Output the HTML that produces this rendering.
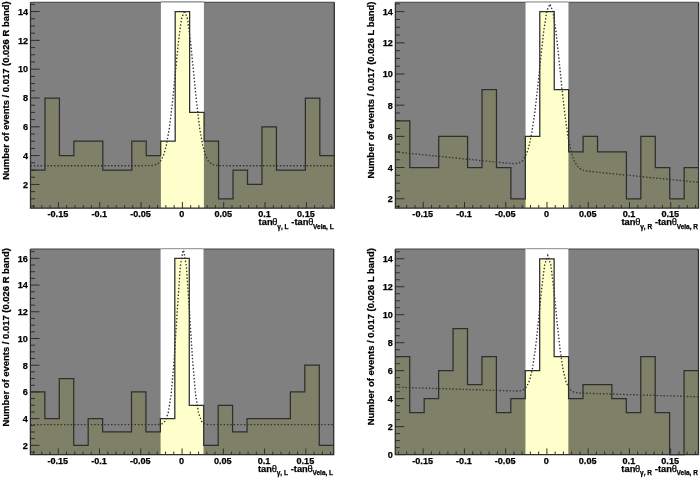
<!DOCTYPE html>
<html><head><meta charset="utf-8"><style>
html,body{margin:0;padding:0;background:#fff;width:700px;height:478px;overflow:hidden}
svg{display:block;filter:blur(0.45px)}
text{font-family:"Liberation Sans",sans-serif;font-weight:bold;fill:#000;stroke:#000;stroke-width:0.25px}
.lab text{font-size:9.1px}
.yt{font-size:9.45px}
.xt text{font-size:9.3px}
.xt .th{font-weight:normal}
.xt .sb{font-size:6.5px}
</style></head><body>
<svg width="700" height="478" viewBox="0 0 700 478">
<rect width="700" height="478" fill="#fff"/>
<rect x="30.50" y="2.20" width="303.80" height="206.00" fill="#808080"/>
<rect x="160.91" y="2.20" width="42.99" height="206.00" fill="#fff"/>
<clipPath id="band0"><rect x="160.91" y="2.20" width="42.99" height="206.00"/></clipPath>
<path d="M30.50,208.20 L30.50,170.03 L44.97,170.03 L44.97,98.00 L59.43,98.00 L59.43,155.62 L73.90,155.62 L73.90,141.21 L88.37,141.21 L88.37,141.21 L102.83,141.21 L102.83,170.03 L117.30,170.03 L117.30,170.03 L131.77,170.03 L131.77,141.21 L146.23,141.21 L146.23,155.62 L160.70,155.62 L160.70,141.21 L175.17,141.21 L175.17,11.56 L189.63,11.56 L189.63,112.40 L204.10,112.40 L204.10,141.21 L218.57,141.21 L218.57,198.84 L233.03,198.84 L233.03,170.03 L247.50,170.03 L247.50,184.43 L261.97,184.43 L261.97,126.81 L276.43,126.81 L276.43,170.03 L290.90,170.03 L290.90,170.03 L305.37,170.03 L305.37,98.00 L319.83,98.00 L319.83,155.62 L334.30,155.62 L334.30,208.20 Z" fill="#7f8068"/>
<path d="M30.50,208.20 L30.50,170.03 L44.97,170.03 L44.97,98.00 L59.43,98.00 L59.43,155.62 L73.90,155.62 L73.90,141.21 L88.37,141.21 L88.37,141.21 L102.83,141.21 L102.83,170.03 L117.30,170.03 L117.30,170.03 L131.77,170.03 L131.77,141.21 L146.23,141.21 L146.23,155.62 L160.70,155.62 L160.70,141.21 L175.17,141.21 L175.17,11.56 L189.63,11.56 L189.63,112.40 L204.10,112.40 L204.10,141.21 L218.57,141.21 L218.57,198.84 L233.03,198.84 L233.03,170.03 L247.50,170.03 L247.50,184.43 L261.97,184.43 L261.97,126.81 L276.43,126.81 L276.43,170.03 L290.90,170.03 L290.90,170.03 L305.37,170.03 L305.37,98.00 L319.83,98.00 L319.83,155.62 L334.30,155.62 L334.30,208.20 Z" fill="#ffffcc" clip-path="url(#band0)"/>
<path d="M30.50,170.03 L44.97,170.03 L44.97,98.00 L59.43,98.00 L59.43,155.62 L73.90,155.62 L73.90,141.21 L88.37,141.21 L88.37,141.21 L102.83,141.21 L102.83,170.03 L117.30,170.03 L117.30,170.03 L131.77,170.03 L131.77,141.21 L146.23,141.21 L146.23,155.62 L160.70,155.62 L160.70,141.21 L175.17,141.21 L175.17,11.56 L189.63,11.56 L189.63,112.40 L204.10,112.40 L204.10,141.21 L218.57,141.21 L218.57,198.84 L233.03,198.84 L233.03,170.03 L247.50,170.03 L247.50,184.43 L261.97,184.43 L261.97,126.81 L276.43,126.81 L276.43,170.03 L290.90,170.03 L290.90,170.03 L305.37,170.03 L305.37,98.00 L319.83,98.00 L319.83,155.62 L334.30,155.62" fill="none" stroke="#2e2e2e" stroke-width="1.25"/>
<clipPath id="fr0"><rect x="30.50" y="2.20" width="303.80" height="206.00"/></clipPath>
<polyline points="30.50,165.70 32.60,165.70 35.64,165.70 38.68,165.70 41.71,165.70 44.75,165.70 47.79,165.70 50.83,165.70 53.87,165.70 56.90,165.70 59.94,165.70 62.98,165.70 66.02,165.70 69.06,165.70 72.09,165.70 75.13,165.70 78.17,165.70 81.21,165.70 84.25,165.70 87.28,165.70 90.32,165.70 93.36,165.70 96.40,165.70 99.44,165.70 102.47,165.70 105.51,165.70 108.55,165.70 111.59,165.70 114.63,165.70 117.66,165.70 120.70,165.70 123.74,165.70 126.78,165.70 129.82,165.70 132.85,165.70 135.89,165.70 138.93,165.70 141.97,165.70 145.01,165.69 148.04,165.66 151.08,165.55 154.12,165.18 157.16,164.17 160.20,161.65 163.23,156.18 166.27,145.73 169.31,128.33 172.35,103.29 175.39,72.71 178.42,42.06 181.46,19.01 184.50,10.41 187.54,19.01 190.58,42.06 193.61,72.71 196.65,103.29 199.69,128.33 202.73,145.73 205.77,156.18 208.80,161.65 211.84,164.17 214.88,165.18 217.92,165.55 220.96,165.66 223.99,165.69 227.03,165.70 230.07,165.70 233.11,165.70 236.15,165.70 239.18,165.70 242.22,165.70 245.26,165.70 248.30,165.70 251.34,165.70 254.37,165.70 257.41,165.70 260.45,165.70 263.49,165.70 266.53,165.70 269.56,165.70 272.60,165.70 275.64,165.70 278.68,165.70 281.72,165.70 284.75,165.70 287.79,165.70 290.83,165.70 293.87,165.70 296.91,165.70 299.94,165.70 302.98,165.70 306.02,165.70 309.06,165.70 312.10,165.70 315.13,165.70 318.17,165.70 321.21,165.70 324.25,165.70 327.29,165.70 330.32,165.70 333.36,165.70 334.30,165.70" fill="none" stroke="#333" stroke-width="1.35" stroke-dasharray="1.45 1.91" clip-path="url(#fr0)"/>
<path d="M30.50,2.20 L30.50,208.20 L334.30,208.20 L334.30,2.20" fill="none" stroke="#2e2e2e" stroke-width="1.3"/>
<path d="M30.50,2.20 L160.91,2.20" stroke="#404040" stroke-width="1.1"/>
<path d="M203.89,2.20 L334.30,2.20" stroke="#404040" stroke-width="1.1"/>
<path d="M160.91,1.80 L203.89,1.80" stroke="#a0a0a0" stroke-width="1.4"/>
<path d="M30.50,206.04 h4.56 M30.50,198.84 h4.56 M30.50,191.63 h4.56 M30.50,184.43 h9.11 M30.50,177.23 h4.56 M30.50,170.03 h4.56 M30.50,162.82 h4.56 M30.50,155.62 h9.11 M30.50,148.42 h4.56 M30.50,141.21 h4.56 M30.50,134.01 h4.56 M30.50,126.81 h9.11 M30.50,119.61 h4.56 M30.50,112.40 h4.56 M30.50,105.20 h4.56 M30.50,98.00 h9.11 M30.50,90.79 h4.56 M30.50,83.59 h4.56 M30.50,76.39 h4.56 M30.50,69.19 h9.11 M30.50,61.98 h4.56 M30.50,54.78 h4.56 M30.50,47.58 h4.56 M30.50,40.37 h9.11 M30.50,33.17 h4.56 M30.50,25.97 h4.56 M30.50,18.77 h4.56 M30.50,11.56 h9.11 M30.50,4.36 h4.56 M33.60,208.20 v-3.09 M41.87,208.20 v-3.09 M50.13,208.20 v-3.09 M58.40,208.20 v-6.18 M66.67,208.20 v-3.09 M74.93,208.20 v-3.09 M83.20,208.20 v-3.09 M91.47,208.20 v-3.09 M99.73,208.20 v-6.18 M108.00,208.20 v-3.09 M116.27,208.20 v-3.09 M124.53,208.20 v-3.09 M132.80,208.20 v-3.09 M141.07,208.20 v-6.18 M149.33,208.20 v-3.09 M157.60,208.20 v-3.09 M165.87,208.20 v-3.09 M174.13,208.20 v-3.09 M182.40,208.20 v-6.18 M190.67,208.20 v-3.09 M198.93,208.20 v-3.09 M207.20,208.20 v-3.09 M215.47,208.20 v-3.09 M223.73,208.20 v-6.18 M232.00,208.20 v-3.09 M240.27,208.20 v-3.09 M248.53,208.20 v-3.09 M256.80,208.20 v-3.09 M265.07,208.20 v-6.18 M273.33,208.20 v-3.09 M281.60,208.20 v-3.09 M289.87,208.20 v-3.09 M298.13,208.20 v-3.09 M306.40,208.20 v-6.18 M314.67,208.20 v-3.09 M322.93,208.20 v-3.09 M331.20,208.20 v-3.09" stroke="#2e2e2e" stroke-width="1"/>
<g class="lab"><text x="28.00" y="187.73" text-anchor="end">2</text><text x="28.00" y="158.92" text-anchor="end">4</text><text x="28.00" y="130.11" text-anchor="end">6</text><text x="28.00" y="101.30" text-anchor="end">8</text><text x="28.00" y="72.49" text-anchor="end">10</text><text x="28.00" y="43.67" text-anchor="end">12</text><text x="28.00" y="14.86" text-anchor="end">14</text><text x="57.90" y="217.10" text-anchor="middle">-0.15</text><text x="99.23" y="217.10" text-anchor="middle">-0.1</text><text x="140.57" y="217.10" text-anchor="middle">-0.05</text><text x="181.90" y="217.10" text-anchor="middle">0</text><text x="223.23" y="217.10" text-anchor="middle">0.05</text><text x="264.57" y="217.10" text-anchor="middle">0.1</text><text x="305.90" y="217.10" text-anchor="middle">0.15</text></g>
<text class="yt" transform="translate(9.00,1.40) rotate(-90)" text-anchor="end">Number of events / 0.017 (0.026 R band)</text>
<g class="xt"><text x="258.61" y="225.40">tan</text><text class="th" x="272.36" y="225.40">θ</text><text class="sb" x="277.36" y="228.60">γ, L</text><text x="291.36" y="225.40">-tan</text><text class="th" x="308.21" y="225.40">θ</text><text class="sb" x="313.11" y="228.60">Vela, L</text></g>
<rect x="395.40" y="2.30" width="303.20" height="205.80" fill="#808080"/>
<rect x="525.55" y="2.30" width="42.90" height="205.80" fill="#fff"/>
<clipPath id="band1"><rect x="525.55" y="2.30" width="42.90" height="205.80"/></clipPath>
<path d="M395.40,208.10 L395.40,120.79 L409.84,120.79 L409.84,167.56 L424.28,167.56 L424.28,167.56 L438.71,167.56 L438.71,136.38 L453.15,136.38 L453.15,136.38 L467.59,136.38 L467.59,167.56 L482.03,167.56 L482.03,89.61 L496.47,89.61 L496.47,167.56 L510.90,167.56 L510.90,198.75 L525.34,198.75 L525.34,136.38 L539.78,136.38 L539.78,11.65 L554.22,11.65 L554.22,89.61 L568.66,89.61 L568.66,151.97 L583.10,151.97 L583.10,136.38 L597.53,136.38 L597.53,151.97 L611.97,151.97 L611.97,151.97 L626.41,151.97 L626.41,198.75 L640.85,198.75 L640.85,136.38 L655.29,136.38 L655.29,167.56 L669.72,167.56 L669.72,198.75 L684.16,198.75 L684.16,167.56 L698.60,167.56 L698.60,208.10 Z" fill="#7f8068"/>
<path d="M395.40,208.10 L395.40,120.79 L409.84,120.79 L409.84,167.56 L424.28,167.56 L424.28,167.56 L438.71,167.56 L438.71,136.38 L453.15,136.38 L453.15,136.38 L467.59,136.38 L467.59,167.56 L482.03,167.56 L482.03,89.61 L496.47,89.61 L496.47,167.56 L510.90,167.56 L510.90,198.75 L525.34,198.75 L525.34,136.38 L539.78,136.38 L539.78,11.65 L554.22,11.65 L554.22,89.61 L568.66,89.61 L568.66,151.97 L583.10,151.97 L583.10,136.38 L597.53,136.38 L597.53,151.97 L611.97,151.97 L611.97,151.97 L626.41,151.97 L626.41,198.75 L640.85,198.75 L640.85,136.38 L655.29,136.38 L655.29,167.56 L669.72,167.56 L669.72,198.75 L684.16,198.75 L684.16,167.56 L698.60,167.56 L698.60,208.10 Z" fill="#ffffcc" clip-path="url(#band1)"/>
<path d="M395.40,120.79 L409.84,120.79 L409.84,167.56 L424.28,167.56 L424.28,167.56 L438.71,167.56 L438.71,136.38 L453.15,136.38 L453.15,136.38 L467.59,136.38 L467.59,167.56 L482.03,167.56 L482.03,89.61 L496.47,89.61 L496.47,167.56 L510.90,167.56 L510.90,198.75 L525.34,198.75 L525.34,136.38 L539.78,136.38 L539.78,11.65 L554.22,11.65 L554.22,89.61 L568.66,89.61 L568.66,151.97 L583.10,151.97 L583.10,136.38 L597.53,136.38 L597.53,151.97 L611.97,151.97 L611.97,151.97 L626.41,151.97 L626.41,198.75 L640.85,198.75 L640.85,136.38 L655.29,136.38 L655.29,167.56 L669.72,167.56 L669.72,198.75 L684.16,198.75 L684.16,167.56 L698.60,167.56" fill="none" stroke="#2e2e2e" stroke-width="1.25"/>
<clipPath id="fr1"><rect x="395.40" y="2.30" width="303.20" height="205.80"/></clipPath>
<polyline points="395.40,151.97 398.30,152.26 401.33,152.57 404.36,152.87 407.40,153.18 410.43,153.48 413.46,153.78 416.49,154.09 419.52,154.39 422.56,154.70 425.59,155.00 428.62,155.30 431.65,155.61 434.68,155.91 437.72,156.22 440.75,156.52 443.78,156.82 446.81,157.13 449.84,157.43 452.88,157.74 455.91,158.04 458.94,158.34 461.97,158.65 465.00,158.95 468.04,159.26 471.07,159.56 474.10,159.86 477.13,160.17 480.16,160.47 483.20,160.78 486.23,161.08 489.26,161.38 492.29,161.69 495.32,161.99 498.36,162.30 501.39,162.60 504.42,162.90 507.45,163.18 510.48,163.43 513.52,163.57 516.55,163.42 519.58,162.62 522.61,160.48 525.64,155.89 528.68,147.37 531.71,133.36 534.74,112.96 537.77,86.76 540.80,57.59 543.84,30.36 546.87,10.91 549.90,4.02 552.93,11.52 555.96,31.58 559.00,59.42 562.03,89.20 565.06,116.00 568.09,137.01 571.12,151.62 574.16,160.76 577.19,165.95 580.22,168.70 583.25,170.11 586.28,170.86 589.32,171.34 592.35,171.70 595.38,172.02 598.41,172.33 601.44,172.63 604.48,172.94 607.51,173.24 610.54,173.55 613.57,173.85 616.60,174.15 619.64,174.46 622.67,174.76 625.70,175.07 628.73,175.37 631.76,175.67 634.80,175.98 637.83,176.28 640.86,176.59 643.89,176.89 646.92,177.19 649.96,177.50 652.99,177.80 656.02,178.11 659.05,178.41 662.08,178.71 665.12,179.02 668.15,179.32 671.18,179.63 674.21,179.93 677.24,180.23 680.28,180.54 683.31,180.84 686.34,181.15 689.37,181.45 692.40,181.75 695.44,182.06 698.47,182.36 698.60,182.38" fill="none" stroke="#333" stroke-width="1.35" stroke-dasharray="1.45 1.91" clip-path="url(#fr1)"/>
<path d="M395.40,2.30 L395.40,208.10 L698.60,208.10 L698.60,2.30" fill="none" stroke="#2e2e2e" stroke-width="1.3"/>
<path d="M395.40,2.30 L525.55,2.30" stroke="#404040" stroke-width="1.1"/>
<path d="M568.45,2.30 L698.60,2.30" stroke="#404040" stroke-width="1.1"/>
<path d="M525.55,1.90 L568.45,1.90" stroke="#a0a0a0" stroke-width="1.4"/>
<path d="M395.40,206.54 h4.55 M395.40,198.75 h9.10 M395.40,190.95 h4.55 M395.40,183.15 h4.55 M395.40,175.36 h4.55 M395.40,167.56 h9.10 M395.40,159.77 h4.55 M395.40,151.97 h4.55 M395.40,144.18 h4.55 M395.40,136.38 h9.10 M395.40,128.59 h4.55 M395.40,120.79 h4.55 M395.40,113.00 h4.55 M395.40,105.20 h9.10 M395.40,97.40 h4.55 M395.40,89.61 h4.55 M395.40,81.81 h4.55 M395.40,74.02 h9.10 M395.40,66.22 h4.55 M395.40,58.43 h4.55 M395.40,50.63 h4.55 M395.40,42.84 h9.10 M395.40,35.04 h4.55 M395.40,27.25 h4.55 M395.40,19.45 h4.55 M395.40,11.65 h9.10 M395.40,3.86 h4.55 M398.49,208.10 v-3.09 M406.74,208.10 v-3.09 M414.99,208.10 v-3.09 M423.24,208.10 v-6.17 M431.50,208.10 v-3.09 M439.75,208.10 v-3.09 M448.00,208.10 v-3.09 M456.25,208.10 v-3.09 M464.50,208.10 v-6.17 M472.75,208.10 v-3.09 M481.00,208.10 v-3.09 M489.25,208.10 v-3.09 M497.50,208.10 v-3.09 M505.75,208.10 v-6.17 M514.00,208.10 v-3.09 M522.25,208.10 v-3.09 M530.50,208.10 v-3.09 M538.75,208.10 v-3.09 M547.00,208.10 v-6.17 M555.25,208.10 v-3.09 M563.50,208.10 v-3.09 M571.75,208.10 v-3.09 M580.00,208.10 v-3.09 M588.25,208.10 v-6.17 M596.50,208.10 v-3.09 M604.75,208.10 v-3.09 M613.00,208.10 v-3.09 M621.25,208.10 v-3.09 M629.50,208.10 v-6.17 M637.75,208.10 v-3.09 M646.00,208.10 v-3.09 M654.25,208.10 v-3.09 M662.50,208.10 v-3.09 M670.76,208.10 v-6.17 M679.01,208.10 v-3.09 M687.26,208.10 v-3.09 M695.51,208.10 v-3.09" stroke="#2e2e2e" stroke-width="1"/>
<g class="lab"><text x="392.90" y="202.05" text-anchor="end">2</text><text x="392.90" y="170.86" text-anchor="end">4</text><text x="392.90" y="139.68" text-anchor="end">6</text><text x="392.90" y="108.50" text-anchor="end">8</text><text x="392.90" y="77.32" text-anchor="end">10</text><text x="392.90" y="46.14" text-anchor="end">12</text><text x="392.90" y="14.95" text-anchor="end">14</text><text x="422.74" y="217.00" text-anchor="middle">-0.15</text><text x="464.00" y="217.00" text-anchor="middle">-0.1</text><text x="505.25" y="217.00" text-anchor="middle">-0.05</text><text x="546.50" y="217.00" text-anchor="middle">0</text><text x="587.75" y="217.00" text-anchor="middle">0.05</text><text x="629.00" y="217.00" text-anchor="middle">0.1</text><text x="670.26" y="217.00" text-anchor="middle">0.15</text></g>
<text class="yt" transform="translate(373.90,1.50) rotate(-90)" text-anchor="end">Number of events / 0.017 (0.026 L band)</text>
<g class="xt"><text x="621.46" y="225.30">tan</text><text class="th" x="635.21" y="225.30">θ</text><text class="sb" x="640.21" y="228.50">γ, R</text><text x="654.93" y="225.30">-tan</text><text class="th" x="671.78" y="225.30">θ</text><text class="sb" x="676.68" y="228.50">Vela, R</text></g>
<rect x="30.40" y="249.00" width="303.30" height="205.70" fill="#808080"/>
<rect x="160.59" y="249.00" width="42.92" height="205.70" fill="#fff"/>
<clipPath id="band2"><rect x="160.59" y="249.00" width="42.92" height="205.70"/></clipPath>
<path d="M30.40,454.70 L30.40,391.92 L44.84,391.92 L44.84,418.64 L59.29,418.64 L59.29,378.56 L73.73,378.56 L73.73,445.35 L88.17,445.35 L88.17,418.64 L102.61,418.64 L102.61,431.99 L117.06,431.99 L117.06,431.99 L131.50,431.99 L131.50,391.92 L145.94,391.92 L145.94,431.99 L160.39,431.99 L160.39,418.64 L174.83,418.64 L174.83,258.35 L189.27,258.35 L189.27,405.28 L203.71,405.28 L203.71,445.35 L218.16,445.35 L218.16,405.28 L232.60,405.28 L232.60,431.99 L247.04,431.99 L247.04,418.64 L261.49,418.64 L261.49,418.64 L275.93,418.64 L275.93,418.64 L290.37,418.64 L290.37,391.92 L304.81,391.92 L304.81,365.21 L319.26,365.21 L319.26,445.35 L333.70,445.35 L333.70,454.70 Z" fill="#7f8068"/>
<path d="M30.40,454.70 L30.40,391.92 L44.84,391.92 L44.84,418.64 L59.29,418.64 L59.29,378.56 L73.73,378.56 L73.73,445.35 L88.17,445.35 L88.17,418.64 L102.61,418.64 L102.61,431.99 L117.06,431.99 L117.06,431.99 L131.50,431.99 L131.50,391.92 L145.94,391.92 L145.94,431.99 L160.39,431.99 L160.39,418.64 L174.83,418.64 L174.83,258.35 L189.27,258.35 L189.27,405.28 L203.71,405.28 L203.71,445.35 L218.16,445.35 L218.16,405.28 L232.60,405.28 L232.60,431.99 L247.04,431.99 L247.04,418.64 L261.49,418.64 L261.49,418.64 L275.93,418.64 L275.93,418.64 L290.37,418.64 L290.37,391.92 L304.81,391.92 L304.81,365.21 L319.26,365.21 L319.26,445.35 L333.70,445.35 L333.70,454.70 Z" fill="#ffffcc" clip-path="url(#band2)"/>
<path d="M30.40,391.92 L44.84,391.92 L44.84,418.64 L59.29,418.64 L59.29,378.56 L73.73,378.56 L73.73,445.35 L88.17,445.35 L88.17,418.64 L102.61,418.64 L102.61,431.99 L117.06,431.99 L117.06,431.99 L131.50,431.99 L131.50,391.92 L145.94,391.92 L145.94,431.99 L160.39,431.99 L160.39,418.64 L174.83,418.64 L174.83,258.35 L189.27,258.35 L189.27,405.28 L203.71,405.28 L203.71,445.35 L218.16,445.35 L218.16,405.28 L232.60,405.28 L232.60,431.99 L247.04,431.99 L247.04,418.64 L261.49,418.64 L261.49,418.64 L275.93,418.64 L275.93,418.64 L290.37,418.64 L290.37,391.92 L304.81,391.92 L304.81,365.21 L319.26,365.21 L319.26,445.35 L333.70,445.35" fill="none" stroke="#2e2e2e" stroke-width="1.25"/>
<clipPath id="fr2"><rect x="30.40" y="249.00" width="303.30" height="205.70"/></clipPath>
<polyline points="30.40,424.65 31.70,424.65 34.73,424.65 37.77,424.65 40.80,424.65 43.83,424.65 46.87,424.65 49.90,424.65 52.93,424.65 55.96,424.65 59.00,424.65 62.03,424.65 65.06,424.65 68.10,424.65 71.13,424.65 74.16,424.65 77.20,424.65 80.23,424.65 83.26,424.65 86.29,424.65 89.33,424.65 92.36,424.65 95.39,424.65 98.43,424.65 101.46,424.65 104.49,424.65 107.53,424.65 110.56,424.65 113.59,424.65 116.62,424.65 119.66,424.65 122.69,424.65 125.72,424.65 128.76,424.65 131.79,424.65 134.82,424.65 137.86,424.65 140.89,424.65 143.92,424.65 146.95,424.65 149.99,424.65 153.02,424.64 156.05,424.62 159.09,424.48 162.12,423.80 165.15,421.15 168.19,413.05 171.22,393.76 174.25,358.46 177.28,310.58 180.32,266.52 183.35,248.33 186.38,266.52 189.42,310.58 192.45,358.46 195.48,393.76 198.52,413.05 201.55,421.15 204.58,423.80 207.61,424.48 210.65,424.62 213.68,424.64 216.71,424.65 219.75,424.65 222.78,424.65 225.81,424.65 228.85,424.65 231.88,424.65 234.91,424.65 237.94,424.65 240.98,424.65 244.01,424.65 247.04,424.65 250.08,424.65 253.11,424.65 256.14,424.65 259.18,424.65 262.21,424.65 265.24,424.65 268.27,424.65 271.31,424.65 274.34,424.65 277.37,424.65 280.41,424.65 283.44,424.65 286.47,424.65 289.50,424.65 292.54,424.65 295.57,424.65 298.60,424.65 301.64,424.65 304.67,424.65 307.70,424.65 310.74,424.65 313.77,424.65 316.80,424.65 319.84,424.65 322.87,424.65 325.90,424.65 328.93,424.65 331.97,424.65 333.70,424.65" fill="none" stroke="#333" stroke-width="1.35" stroke-dasharray="1.45 1.91" clip-path="url(#fr2)"/>
<path d="M30.40,249.00 L30.40,454.70 L333.70,454.70 L333.70,249.00" fill="none" stroke="#2e2e2e" stroke-width="1.3"/>
<path d="M30.40,249.00 L160.59,249.00" stroke="#404040" stroke-width="1.1"/>
<path d="M203.51,249.00 L333.70,249.00" stroke="#404040" stroke-width="1.1"/>
<path d="M160.59,248.60 L203.51,248.60" stroke="#a0a0a0" stroke-width="1.4"/>
<path d="M30.40,452.03 h4.55 M30.40,445.35 h9.10 M30.40,438.67 h4.55 M30.40,431.99 h4.55 M30.40,425.31 h4.55 M30.40,418.64 h9.10 M30.40,411.96 h4.55 M30.40,405.28 h4.55 M30.40,398.60 h4.55 M30.40,391.92 h9.10 M30.40,385.24 h4.55 M30.40,378.56 h4.55 M30.40,371.89 h4.55 M30.40,365.21 h9.10 M30.40,358.53 h4.55 M30.40,351.85 h4.55 M30.40,345.17 h4.55 M30.40,338.49 h9.10 M30.40,331.81 h4.55 M30.40,325.14 h4.55 M30.40,318.46 h4.55 M30.40,311.78 h9.10 M30.40,305.10 h4.55 M30.40,298.42 h4.55 M30.40,291.74 h4.55 M30.40,285.06 h9.10 M30.40,278.39 h4.55 M30.40,271.71 h4.55 M30.40,265.03 h4.55 M30.40,258.35 h9.10 M30.40,251.67 h4.55 M33.49,454.70 v-3.09 M41.75,454.70 v-3.09 M50.00,454.70 v-3.09 M58.25,454.70 v-6.17 M66.51,454.70 v-3.09 M74.76,454.70 v-3.09 M83.01,454.70 v-3.09 M91.27,454.70 v-3.09 M99.52,454.70 v-6.17 M107.77,454.70 v-3.09 M116.03,454.70 v-3.09 M124.28,454.70 v-3.09 M132.53,454.70 v-3.09 M140.78,454.70 v-6.17 M149.04,454.70 v-3.09 M157.29,454.70 v-3.09 M165.54,454.70 v-3.09 M173.80,454.70 v-3.09 M182.05,454.70 v-6.17 M190.30,454.70 v-3.09 M198.56,454.70 v-3.09 M206.81,454.70 v-3.09 M215.06,454.70 v-3.09 M223.32,454.70 v-6.17 M231.57,454.70 v-3.09 M239.82,454.70 v-3.09 M248.07,454.70 v-3.09 M256.33,454.70 v-3.09 M264.58,454.70 v-6.17 M272.83,454.70 v-3.09 M281.09,454.70 v-3.09 M289.34,454.70 v-3.09 M297.59,454.70 v-3.09 M305.85,454.70 v-6.17 M314.10,454.70 v-3.09 M322.35,454.70 v-3.09 M330.61,454.70 v-3.09" stroke="#2e2e2e" stroke-width="1"/>
<g class="lab"><text x="27.90" y="448.65" text-anchor="end">2</text><text x="27.90" y="421.94" text-anchor="end">4</text><text x="27.90" y="395.22" text-anchor="end">6</text><text x="27.90" y="368.51" text-anchor="end">8</text><text x="27.90" y="341.79" text-anchor="end">10</text><text x="27.90" y="315.08" text-anchor="end">12</text><text x="27.90" y="288.36" text-anchor="end">14</text><text x="27.90" y="261.65" text-anchor="end">16</text><text x="57.75" y="463.60" text-anchor="middle">-0.15</text><text x="99.02" y="463.60" text-anchor="middle">-0.1</text><text x="140.28" y="463.60" text-anchor="middle">-0.05</text><text x="181.55" y="463.60" text-anchor="middle">0</text><text x="222.82" y="463.60" text-anchor="middle">0.05</text><text x="264.08" y="463.60" text-anchor="middle">0.1</text><text x="305.35" y="463.60" text-anchor="middle">0.15</text></g>
<text class="yt" transform="translate(8.90,248.20) rotate(-90)" text-anchor="end">Number of events / 0.017 (0.026 R band)</text>
<g class="xt"><text x="258.01" y="471.90">tan</text><text class="th" x="271.76" y="471.90">θ</text><text class="sb" x="276.76" y="475.10">γ, L</text><text x="290.76" y="471.90">-tan</text><text class="th" x="307.61" y="471.90">θ</text><text class="sb" x="312.51" y="475.10">Vela, L</text></g>
<rect x="395.30" y="249.00" width="303.20" height="205.60" fill="#808080"/>
<rect x="525.45" y="249.00" width="42.90" height="205.60" fill="#fff"/>
<clipPath id="band3"><rect x="525.45" y="249.00" width="42.90" height="205.60"/></clipPath>
<path d="M395.30,454.60 L395.30,356.70 L409.74,356.70 L409.74,412.64 L424.18,412.64 L424.18,398.65 L438.61,398.65 L438.61,370.68 L453.05,370.68 L453.05,328.72 L467.49,328.72 L467.49,384.67 L481.93,384.67 L481.93,356.70 L496.37,356.70 L496.37,412.64 L510.80,412.64 L510.80,398.65 L525.24,398.65 L525.24,370.68 L539.68,370.68 L539.68,258.79 L554.12,258.79 L554.12,356.70 L568.56,356.70 L568.56,398.65 L583.00,398.65 L583.00,384.67 L597.43,384.67 L597.43,384.67 L611.87,384.67 L611.87,398.65 L626.31,398.65 L626.31,412.64 L640.75,412.64 L640.75,356.70 L655.19,356.70 L655.19,412.64 L669.62,412.64 L669.62,454.60 L684.06,454.60 L684.06,370.68 L698.50,370.68 L698.50,454.60 Z" fill="#7f8068"/>
<path d="M395.30,454.60 L395.30,356.70 L409.74,356.70 L409.74,412.64 L424.18,412.64 L424.18,398.65 L438.61,398.65 L438.61,370.68 L453.05,370.68 L453.05,328.72 L467.49,328.72 L467.49,384.67 L481.93,384.67 L481.93,356.70 L496.37,356.70 L496.37,412.64 L510.80,412.64 L510.80,398.65 L525.24,398.65 L525.24,370.68 L539.68,370.68 L539.68,258.79 L554.12,258.79 L554.12,356.70 L568.56,356.70 L568.56,398.65 L583.00,398.65 L583.00,384.67 L597.43,384.67 L597.43,384.67 L611.87,384.67 L611.87,398.65 L626.31,398.65 L626.31,412.64 L640.75,412.64 L640.75,356.70 L655.19,356.70 L655.19,412.64 L669.62,412.64 L669.62,454.60 L684.06,454.60 L684.06,370.68 L698.50,370.68 L698.50,454.60 Z" fill="#ffffcc" clip-path="url(#band3)"/>
<path d="M395.30,356.70 L409.74,356.70 L409.74,412.64 L424.18,412.64 L424.18,398.65 L438.61,398.65 L438.61,370.68 L453.05,370.68 L453.05,328.72 L467.49,328.72 L467.49,384.67 L481.93,384.67 L481.93,356.70 L496.37,356.70 L496.37,412.64 L510.80,412.64 L510.80,398.65 L525.24,398.65 L525.24,370.68 L539.68,370.68 L539.68,258.79 L554.12,258.79 L554.12,356.70 L568.56,356.70 L568.56,398.65 L583.00,398.65 L583.00,384.67 L597.43,384.67 L597.43,384.67 L611.87,384.67 L611.87,398.65 L626.31,398.65 L626.31,412.64 L640.75,412.64 L640.75,356.70 L655.19,356.70 L655.19,412.64 L669.62,412.64 L669.62,454.60 L684.06,454.60 L684.06,370.68 L698.50,370.68" fill="none" stroke="#2e2e2e" stroke-width="1.25"/>
<clipPath id="fr3"><rect x="395.30" y="249.00" width="303.20" height="205.60"/></clipPath>
<polyline points="395.30,387.19 396.15,387.21 399.18,387.31 402.21,387.41 405.25,387.50 408.28,387.60 411.31,387.70 414.34,387.79 417.37,387.89 420.41,387.98 423.44,388.08 426.47,388.18 429.50,388.27 432.53,388.37 435.57,388.47 438.60,388.56 441.63,388.66 444.66,388.76 447.69,388.85 450.73,388.95 453.76,389.05 456.79,389.14 459.82,389.24 462.85,389.34 465.89,389.43 468.92,389.53 471.95,389.63 474.98,389.72 478.01,389.82 481.05,389.91 484.08,390.01 487.11,390.11 490.14,390.20 493.17,390.30 496.21,390.40 499.24,390.49 502.27,390.59 505.30,390.69 508.33,390.78 511.37,390.87 514.40,390.95 517.43,390.95 520.46,390.70 523.49,389.72 526.53,386.95 529.56,380.49 532.59,367.85 535.62,347.12 538.65,319.03 541.69,288.63 544.72,264.58 547.75,255.43 550.78,264.77 553.81,289.01 556.85,319.61 559.88,347.89 562.91,368.82 565.94,381.65 568.97,388.30 572.01,391.27 575.04,392.44 578.07,392.88 581.10,393.07 584.13,393.19 587.17,393.29 590.20,393.39 593.23,393.49 596.26,393.58 599.29,393.68 602.33,393.78 605.36,393.87 608.39,393.97 611.42,394.06 614.45,394.16 617.49,394.26 620.52,394.35 623.55,394.45 626.58,394.55 629.61,394.64 632.65,394.74 635.68,394.84 638.71,394.93 641.74,395.03 644.77,395.13 647.81,395.22 650.84,395.32 653.87,395.42 656.90,395.51 659.93,395.61 662.97,395.71 666.00,395.80 669.03,395.90 672.06,395.99 675.09,396.09 678.13,396.19 681.16,396.28 684.19,396.38 687.22,396.48 690.25,396.57 693.29,396.67 696.32,396.77 698.50,396.84" fill="none" stroke="#333" stroke-width="1.35" stroke-dasharray="1.45 1.91" clip-path="url(#fr3)"/>
<path d="M395.30,249.00 L395.30,454.60 L698.50,454.60 L698.50,249.00" fill="none" stroke="#2e2e2e" stroke-width="1.3"/>
<path d="M395.30,249.00 L525.45,249.00" stroke="#404040" stroke-width="1.1"/>
<path d="M568.35,249.00 L698.50,249.00" stroke="#404040" stroke-width="1.1"/>
<path d="M525.45,248.60 L568.35,248.60" stroke="#a0a0a0" stroke-width="1.4"/>
<path d="M395.30,454.60 h9.10 M395.30,447.61 h4.55 M395.30,440.61 h4.55 M395.30,433.62 h4.55 M395.30,426.63 h9.10 M395.30,419.63 h4.55 M395.30,412.64 h4.55 M395.30,405.65 h4.55 M395.30,398.65 h9.10 M395.30,391.66 h4.55 M395.30,384.67 h4.55 M395.30,377.67 h4.55 M395.30,370.68 h9.10 M395.30,363.69 h4.55 M395.30,356.70 h4.55 M395.30,349.70 h4.55 M395.30,342.71 h9.10 M395.30,335.72 h4.55 M395.30,328.72 h4.55 M395.30,321.73 h4.55 M395.30,314.74 h9.10 M395.30,307.74 h4.55 M395.30,300.75 h4.55 M395.30,293.76 h4.55 M395.30,286.76 h9.10 M395.30,279.77 h4.55 M395.30,272.78 h4.55 M395.30,265.78 h4.55 M395.30,258.79 h9.10 M395.30,251.80 h4.55 M398.39,454.60 v-3.08 M406.64,454.60 v-3.08 M414.89,454.60 v-3.08 M423.14,454.60 v-6.17 M431.40,454.60 v-3.08 M439.65,454.60 v-3.08 M447.90,454.60 v-3.08 M456.15,454.60 v-3.08 M464.40,454.60 v-6.17 M472.65,454.60 v-3.08 M480.90,454.60 v-3.08 M489.15,454.60 v-3.08 M497.40,454.60 v-3.08 M505.65,454.60 v-6.17 M513.90,454.60 v-3.08 M522.15,454.60 v-3.08 M530.40,454.60 v-3.08 M538.65,454.60 v-3.08 M546.90,454.60 v-6.17 M555.15,454.60 v-3.08 M563.40,454.60 v-3.08 M571.65,454.60 v-3.08 M579.90,454.60 v-3.08 M588.15,454.60 v-6.17 M596.40,454.60 v-3.08 M604.65,454.60 v-3.08 M612.90,454.60 v-3.08 M621.15,454.60 v-3.08 M629.40,454.60 v-6.17 M637.65,454.60 v-3.08 M645.90,454.60 v-3.08 M654.15,454.60 v-3.08 M662.40,454.60 v-3.08 M670.66,454.60 v-6.17 M678.91,454.60 v-3.08 M687.16,454.60 v-3.08 M695.41,454.60 v-3.08" stroke="#2e2e2e" stroke-width="1"/>
<g class="lab"><text x="392.80" y="457.90" text-anchor="end">0</text><text x="392.80" y="429.93" text-anchor="end">2</text><text x="392.80" y="401.95" text-anchor="end">4</text><text x="392.80" y="373.98" text-anchor="end">6</text><text x="392.80" y="346.01" text-anchor="end">8</text><text x="392.80" y="318.04" text-anchor="end">10</text><text x="392.80" y="290.06" text-anchor="end">12</text><text x="392.80" y="262.09" text-anchor="end">14</text><text x="422.64" y="463.50" text-anchor="middle">-0.15</text><text x="463.90" y="463.50" text-anchor="middle">-0.1</text><text x="505.15" y="463.50" text-anchor="middle">-0.05</text><text x="546.40" y="463.50" text-anchor="middle">0</text><text x="587.65" y="463.50" text-anchor="middle">0.05</text><text x="628.90" y="463.50" text-anchor="middle">0.1</text><text x="670.16" y="463.50" text-anchor="middle">0.15</text></g>
<text class="yt" transform="translate(373.80,248.20) rotate(-90)" text-anchor="end">Number of events / 0.017 (0.026 L band)</text>
<g class="xt"><text x="621.36" y="471.80">tan</text><text class="th" x="635.11" y="471.80">θ</text><text class="sb" x="640.11" y="475.00">γ, R</text><text x="654.83" y="471.80">-tan</text><text class="th" x="671.68" y="471.80">θ</text><text class="sb" x="676.58" y="475.00">Vela, R</text></g>
</svg>
</body></html>
